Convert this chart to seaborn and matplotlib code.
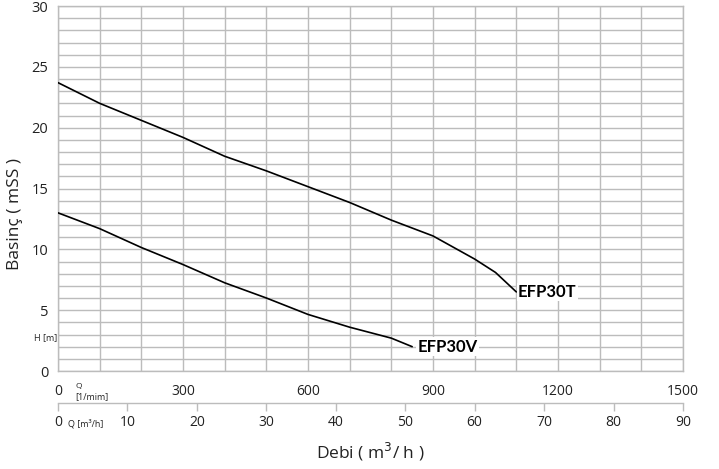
import matplotlib
matplotlib.use('Agg')
import matplotlib.pyplot as plt
import pandas as pd
import seaborn as sns

# Pump curves: flow Q in l/min, head H in mSS
q_efp30t = [0, 100, 200, 300, 400, 500, 600, 700, 800, 900, 1000, 1050, 1100]
h_efp30t = [23.7, 22.0, 20.6, 19.2, 17.65, 16.45, 15.15, 13.85, 12.4, 11.1, 9.2, 8.1, 6.5]
q_efp30v = [0, 100, 200, 300, 400, 500, 600, 700, 800, 850]
h_efp30v = [13.0, 11.7, 10.15, 8.75, 7.25, 6.0, 4.65, 3.6, 2.7, 2.0]
pump_names = ['EFP30T', 'EFP30V']

# axis ticks
lmin_grid = list(range(0, 1501, 100))
lmin_labels = [0, 300, 600, 900, 1200, 1500]
m3h_ticks = [0, 10, 20, 30, 40, 50, 60, 70, 80, 90]
h_major = [0, 5, 10, 15, 20, 25, 30]
h_minor = list(range(0, 31))

df = pd.concat([
    pd.DataFrame({'Q': q_efp30t, 'H': h_efp30t, 'pump': pump_names[0]}),
    pd.DataFrame({'Q': q_efp30v, 'H': h_efp30v, 'pump': pump_names[1]}),
])

sns.set_style('white')
plt.rcParams['font.family'] = ['Open Sans', 'DejaVu Sans']

grid_c = '#bcbcbc'
text_c = '#222222'

fig = plt.figure(figsize=(7.19, 4.69), dpi=100)
ax = fig.add_axes([58 / 719, 98 / 469, 625 / 719, 365 / 469])

sns.lineplot(data=df, x='Q', y='H', units='pump', estimator=None,
             color='black', linewidth=1.2, ax=ax, legend=False, zorder=3)

ax.set_xlim(0, 1500)
ax.set_ylim(0, 30)

# grid: every 100 l/min and every 1 mSS
ax.set_xticks(lmin_grid)
ax.set_xticklabels([str(v) if v in lmin_labels else '' for v in lmin_grid])
ax.set_yticks(h_major)
ax.set_yticks(h_minor, minor=True)
ax.grid(True, which='both', color=grid_c, linewidth=1.0)
ax.tick_params(axis='x', which='major', length=6.5, width=1.0, color=grid_c,
               pad=3, labelsize=10, labelcolor=text_c)
ax.tick_params(axis='y', which='major', length=6, width=1.0, color=grid_c,
               pad=1, labelsize=10.5, labelcolor=text_c)
ax.tick_params(axis='y', which='minor', length=0)
for s in ax.spines.values():
    s.set_color(grid_c)
    s.set_linewidth(1.0)
ax.set_xlabel('')
ax.set_ylabel('')

# second flow axis in m3/h
sec = ax.secondary_xaxis('bottom', functions=(lambda q: q / (1500 / 90),
                                              lambda m: m * (1500 / 90)))
sec.spines['bottom'].set_position(('outward', 23))
sec.spines['bottom'].set_color(grid_c)
sec.spines['bottom'].set_linewidth(1.0)
sec.set_xticks(m3h_ticks)
sec.tick_params(axis='x', length=6, width=1.0, color=grid_c, pad=3,
                labelsize=10, labelcolor=text_c)

# curve labels at the end of each curve
lbl = dict(ha='left', va='center', fontsize=12, fontweight='bold',
           family=['Lato', 'DejaVu Sans'], color='black', zorder=4,
           bbox=dict(fc='white', ec='none', pad=1))
ax.text(q_efp30t[-1] + 4, h_efp30t[-1], pump_names[0], **lbl)
ax.text(q_efp30v[-1] + 12, h_efp30v[-1], pump_names[1], **lbl)

# unit hints
fig.text(75 / 719, 1 - 386 / 469, 'Q', fontsize=6, color=text_c, va='center')
fig.text(75 / 719, 1 - 397 / 469, '[1/mim]', fontsize=6.5, color=text_c, va='center')
fig.text(68 / 719, 1 - 424 / 469, 'Q [m³/h]', fontsize=6.5, color=text_c, va='center')
fig.text(57 / 719, 1 - 338 / 469, 'H [m]', fontsize=6.5, color=text_c,
         ha='right', va='center')

# axis titles
fig.text(15 / 719, 1 - 214 / 469, 'Basinç ( mSS )', rotation=90, fontsize=12.5,
         color=text_c, ha='center', va='center')
fig.text(370 / 719, 1 - 452 / 469, 'Debi ( m$^3$/ h )', fontsize=12.5,
         color=text_c, ha='center', va='center')

fig.savefig('out.png', dpi=100)
